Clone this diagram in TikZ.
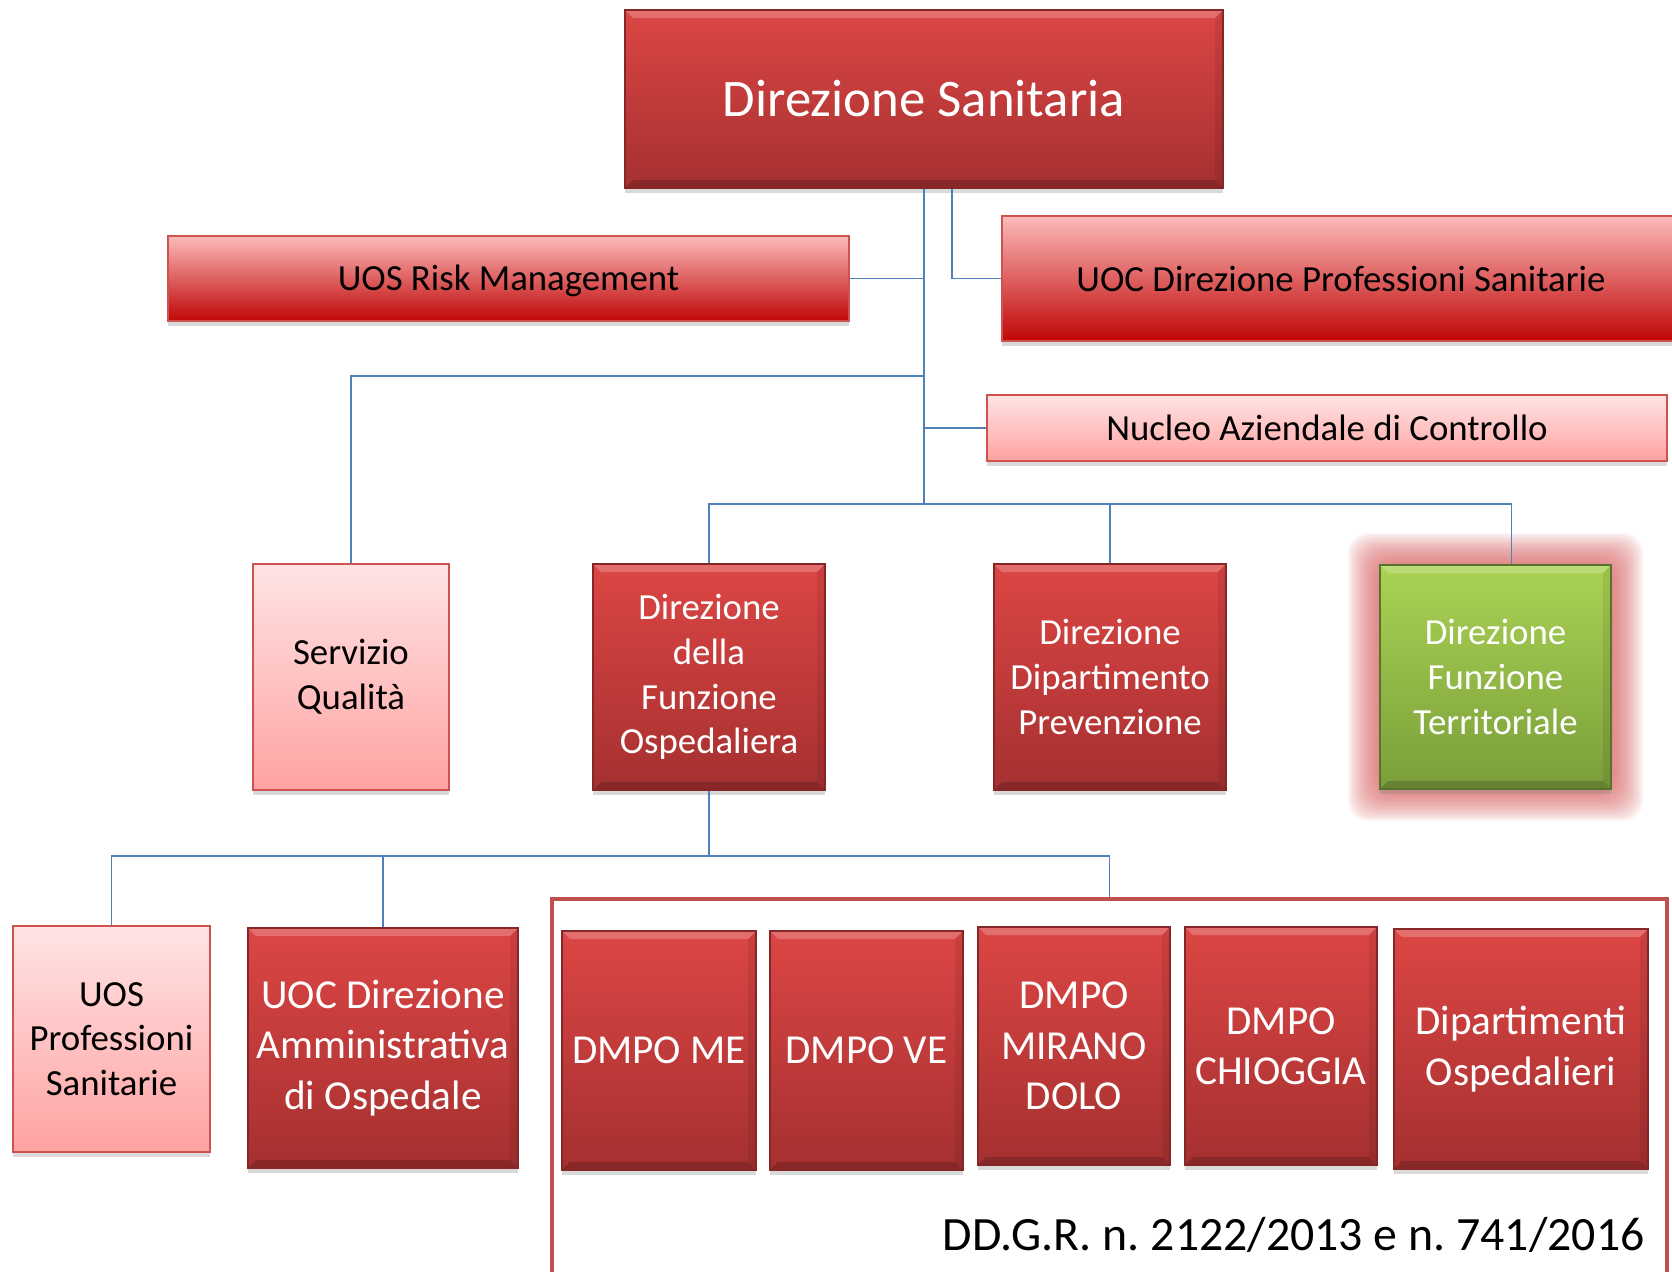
\documentclass[tikz,border=0pt]{standalone}
\usepackage{fontspec}
\setmainfont{Carlito}
\usetikzlibrary{shadows,calc}
\frenchspacing

\definecolor{redtop}{RGB}{220,70,68}
\definecolor{redbot}{RGB}{165,48,48}
\definecolor{redline}{RGB}{135,38,38}
\definecolor{pinktop}{RGB}{255,228,228}
\definecolor{pinkbot}{RGB}{255,162,162}
\definecolor{pinkline}{RGB}{205,82,80}
\definecolor{bartop}{RGB}{252,186,186}
\definecolor{barbot}{RGB}{192,6,6}
\definecolor{greentop}{RGB}{170,211,84}
\definecolor{greenbot}{RGB}{122,158,58}
\definecolor{greenline}{RGB}{88,116,42}
\definecolor{glow}{RGB}{214,92,92}
\definecolor{linkblue}{RGB}{79,129,189}
\definecolor{framered}{RGB}{192,80,77}

\tikzset{
  bevel/.style={path picture={
    \fill[white,opacity=.22] (path picture bounding box.north west) -- (path picture bounding box.north east)
      -- ([shift={(-4pt,-4pt)}]path picture bounding box.north east) -- ([shift={(4pt,-4pt)}]path picture bounding box.north west) -- cycle;
    \fill[black,opacity=.18] (path picture bounding box.south west) -- (path picture bounding box.south east)
      -- ([shift={(-4pt,4pt)}]path picture bounding box.south east) -- ([shift={(4pt,4pt)}]path picture bounding box.south west) -- cycle;
    \fill[black,opacity=.08] (path picture bounding box.north east) -- (path picture bounding box.south east)
      -- ([shift={(-4pt,4pt)}]path picture bounding box.south east) -- ([shift={(-4pt,-4pt)}]path picture bounding box.north east) -- cycle;
  }},
  unit/.style={rectangle, align=center, inner sep=2pt, line width=0.6pt,
    drop shadow={opacity=0.3, shadow xshift=0pt, shadow yshift=-2.5pt},
    font=\fontsize{18.4}{22.4}\selectfont},
  darkunit/.style={unit, bevel, top color=redtop, bottom color=redbot, draw=redline, text=white},
  lightunit/.style={unit, top color=pinktop, bottom color=pinkbot, draw=pinkline, text=black},
  barunit/.style={unit, top color=bartop, bottom color=barbot, draw=pinkline, text=black},
  greenunit/.style={unit, bevel, top color=greentop, bottom color=greenbot, draw=greenline, text=white},
  bigger/.style={font=\fontsize{20.6}{25.2}\selectfont},
  link/.style={draw=linkblue, line width=0.8pt}
}

\begin{document}
\begin{tikzpicture}[x=0.5pt, y=-0.5pt]
  \path[use as bounding box, clip] (0,0) rectangle (1672,1271);

  % top
  \node[darkunit, minimum width=299pt, minimum height=89pt, font=\fontsize{26.4}{32}\selectfont] (ds) at (924,99) {Direzione Sanitaria};
  \node[barunit, minimum width=340.5pt, minimum height=42.5pt, text depth=1pt] (risk) at (508.5,278.5) {UOS Risk Management};
  \node[barunit, minimum width=339pt, minimum height=62.5pt] (dps) at (1341,278.5) {UOC Direzione Professioni Sanitarie};
  \node[lightunit, minimum width=340pt, minimum height=33pt] (nucleo) at (1327,428) {Nucleo Aziendale di Controllo};

  % middle row
  \node[lightunit, minimum width=98pt, minimum height=113pt] (sq) at (351,677) {Servizio\\Qualità};
  \node[darkunit, minimum width=116pt, minimum height=113pt] (dfo) at (709,677) {Direzione\\della\\Funzione\\Ospedaliera};
  \node[darkunit, minimum width=116pt, minimum height=113pt] (ddp) at (1110,677) {Direzione\\Dipartimento\\Prevenzione};
  \coordinate (dftc) at (1495.5,677);
  \foreach \g in {1,...,16}
    \fill[glow, opacity=.075, rounded corners=10pt] ({1380-2*\g},{565-2*\g}) rectangle ({1611+2*\g},{789+2*\g});
  \node[greenunit, minimum width=115.5pt, minimum height=112pt] (dft) at (dftc) {Direzione\\Funzione\\Territoriale};

  % bottom row
  \node[lightunit, minimum width=98.5pt, minimum height=113pt] (uosps) at (111.5,1039) {UOS\\Professioni\\Sanitarie};
  \node[darkunit, bigger, minimum width=135pt, minimum height=120pt] (uocdao) at (383,1048) {UOC Direzione\\Amministrativa\\di Ospedale};
  \node[draw=framered, line width=2pt, minimum width=557.5pt, minimum height=195.5pt] (frame) at (1109.5,1094.5) {};
  \node[darkunit, bigger, minimum width=97pt, minimum height=119.5pt] (me) at (659,1050.5) {DMPO ME};
  \node[darkunit, bigger, minimum width=96.5pt, minimum height=119.5pt] (ve) at (866.5,1050.5) {DMPO VE};
  \node[darkunit, bigger, minimum width=96pt, minimum height=119pt] (mirano) at (1074,1046) {DMPO\\MIRANO\\DOLO};
  \node[darkunit, bigger, minimum width=96pt, minimum height=119pt] (chioggia) at (1281,1046) {DMPO\\CHIOGGIA};
  \node[darkunit, bigger, minimum width=127pt, minimum height=120pt] (dip) at (1521,1049) {Dipartimenti\\Ospedalieri};
  \node[anchor=east, inner sep=0pt, font=\fontsize{23.9}{28}\selectfont] (ddgr) at (1645,1235) {DD.G.R. n. 2122/2013 e n. 741/2016};

  % connectors
  \coordinate (j1) at (924,376);
  \coordinate (j2) at (924,504);
  \coordinate (j3) at (709,856);
  \draw[link] (ds.south) -- (j2);
  \draw[link] ([xshift=14pt]ds.south) |- (dps.west);
  \draw[link] (risk.east) -- (risk.east -| ds.south);
  \draw[link] (j1) -| (sq.north);
  \draw[link] (nucleo.west) -- (nucleo.west -| ds.south);
  \draw[link] (dfo.north) |- (j2) -| ([xshift=8pt]dft.north);
  \draw[link] (ddp.north) -- (ddp.north |- j2);
  \draw[link] (dfo.south) -- (j3) -| (uosps.north);
  \draw[link] (uocdao.north) -- (uocdao.north |- j3);
  \draw[link] (j3) -| (frame.north);
\end{tikzpicture}
\end{document}
